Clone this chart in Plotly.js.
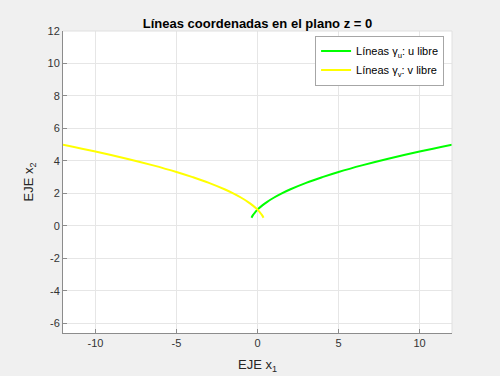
<!DOCTYPE html>
<html>
<head>
<meta charset="utf-8">
<script src="https://cdn.plot.ly/plotly-3.0.1.min.js"></script>
<style>
html,body{margin:0;padding:0;background:#f0f0f0;}
#chart{width:500px;height:376px;}
</style>
</head>
<body>
<div id="chart"></div>
<script>
// Values
const greenX = [-0.37, -0.28, -0.16, 0.0, 0.3, 0.6, 1.0, 1.5, 2.0, 3.0, 4.0, 5.0, 6.5, 8.0, 10.0, 12.0];
const greenY = [0.50, 0.66, 0.82, 1.00, 1.26, 1.48, 1.73, 2.00, 2.24, 2.65, 3.00, 3.32, 3.74, 4.12, 4.58, 5.00];
const yellowX = [0.37, 0.28, 0.16, 0.0, -0.3, -0.6, -1.0, -1.5, -2.0, -3.0, -4.0, -5.0, -6.5, -8.0, -10.0, -12.0];
const yellowY = [0.50, 0.66, 0.82, 1.00, 1.26, 1.48, 1.73, 2.00, 2.24, 2.65, 3.00, 3.32, 3.74, 4.12, 4.58, 5.00];
const seriesNames = ["Líneas γ<sub>u</sub>: u libre", "Líneas γ<sub>v</sub>: v libre"];
const xTicks = [-10, -5, 0, 5, 10];
const yTicks = [-6, -4, -2, 0, 2, 4, 6, 8, 10, 12];

const font = "Liberation Sans, Arial, Helvetica, sans-serif";
const traces = [
  {x: greenX, y: greenY, name: seriesNames[0], type: "scatter", mode: "lines",
   line: {color: "#00ff00", width: 2, shape: "spline"}},
  {x: yellowX, y: yellowY, name: seriesNames[1], type: "scatter", mode: "lines",
   line: {color: "#ffff00", width: 2, shape: "spline"}}
];
const axisCommon = {
  showgrid: true, gridcolor: "#e6e6e6", gridwidth: 1,
  zeroline: false, showline: true, linecolor: "#8c8c8c", linewidth: 1,
  ticks: "inside", ticklen: 4, tickcolor: "#8c8c8c",
  tickfont: {family: font, size: 11, color: "#333333"},
  fixedrange: true
};
const layout = {
  width: 500, height: 376,
  paper_bgcolor: "#f0f0f0", plot_bgcolor: "#ffffff",
  margin: {l: 63, r: 48, t: 31, b: 43},
  showlegend: true,
  title: {text: "<b>Líneas coordenadas en el plano z = 0</b>",
          font: {family: font, size: 13, color: "#000000"},
          x: 0.5, xref: "paper", xanchor: "center", y: 1, yref: "paper", yanchor: "bottom", pad: {b: 3}},
  xaxis: Object.assign({}, axisCommon, {
    range: [-12, 12], tickmode: "array", tickvals: xTicks, ticktext: xTicks.map(String),
    title: {text: "EJE x<sub>1</sub>", font: {family: font, size: 13, color: "#262626"}, standoff: 11}
  }),
  yaxis: Object.assign({}, axisCommon, {
    range: [-6.6, 12], tickmode: "array", tickvals: yTicks, ticktext: yTicks.map(String),
    title: {text: "EJE x<sub>2</sub>", font: {family: font, size: 13, color: "#262626"}, standoff: 10}
  }),
  legend: {x: 0.648, y: 0.985, xanchor: "left", yanchor: "top",
           bgcolor: "#ffffff", bordercolor: "#a6a6a6", borderwidth: 1,
           font: {family: font, size: 11, color: "#000000"}},
  shapes: [
    {type: "line", xref: "paper", yref: "paper", x0: 1, x1: 1, y0: 0, y1: 1, line: {color: "#e0e0e0", width: 1}},
    {type: "line", xref: "paper", yref: "paper", x0: 0, x1: 1, y0: 1, y1: 1, line: {color: "#e0e0e0", width: 1}}
  ]
};
Plotly.newPlot("chart", traces, layout, {displayModeBar: false, staticPlot: true});
</script>
</body>
</html>
